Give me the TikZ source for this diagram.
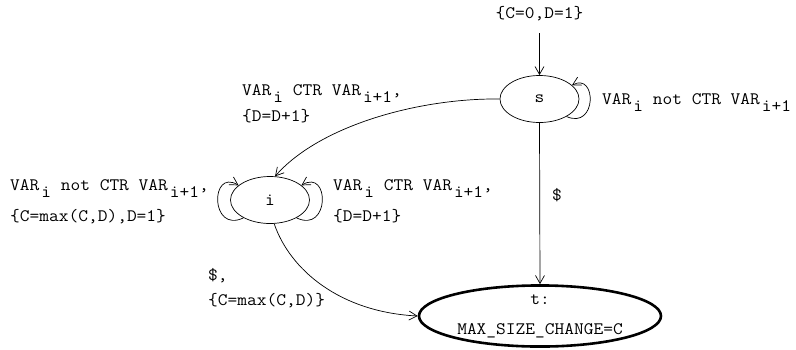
\documentclass[tikz,border=0pt]{standalone}
\usepackage{fontspec}
\setmonofont{Latin Modern Mono}[FakeStretch=1.08]
\usetikzlibrary{shapes.geometric,arrows.meta}
\newcommand\vr[1]{VAR\hspace{2pt}\raisebox{-7pt}{#1}}
\tikzset{
  state/.style={ellipse,draw,line width=0.7pt,minimum width=79pt,minimum height=47pt,inner sep=0pt},
  final/.style={ellipse,draw,line width=2.6pt,minimum width=242pt,minimum height=57pt,inner sep=0pt,align=center},
  lbl/.style={anchor=base west,inner sep=0pt},
  clbl/.style={inner sep=0pt},
  edge/.style={draw,line width=0.7pt,-{Straight Barb[length=8pt,width=9pt]}},
  every node/.style={font=\ttfamily\fontsize{17.5}{30}\selectfont}
}
\begin{document}
\begin{tikzpicture}[x=1pt,y=-1pt]
\useasboundingbox (0,0) rectangle (796,349);
\node[state] (s) at (539.5,99) {s};
\node[state] (i) at (270,200) {i};
\node[final] (t) at (540,316) {t:\\MAX\_SIZE\_CHANGE=C};
\coordinate (init) at (539.5,33);
\node[clbl] (initl) at (539.5,14) {\{C=0,D=1\}};
\draw[edge] (init) -- (s);
% s loop
\draw[edge] (s.-33) .. controls (597,130) and (597,72) .. (s.23);
\node[lbl] (sl) at (602,104) {\vr{i} not CTR \vr{i+1}};
% s to i
\draw[edge] (s.west) .. controls (420,98) and (320,125) .. (i.78);
\node[lbl] (si1) at (242,95) {\vr{i} CTR \vr{i+1},};
\node[lbl] (si2) at (242,121) {\{D=D+1\}};
% i loops
\draw[edge] (i.214) .. controls (210,234) and (210,168) .. (i.155);
\draw[edge] (i.-34) .. controls (330,234) and (330,168) .. (i.25);
\node[lbl] (il1) at (10,190) {\vr{i} not CTR \vr{i+1},};
\node[lbl] (il2) at (10,221) {\{C=max(C,D),D=1\}};
\node[lbl] (ir1) at (333,190) {\vr{i} CTR \vr{i+1},};
\node[lbl] (ir2) at (333,221) {\{D=D+1\}};
% s to t
\draw[edge] (s.south) -- (t.north);
\node[clbl] (dl) at (557,195) {\$};
% i to t
\draw[edge] (i.-80) .. controls (290,270) and (340,312) .. (t.west);
\node[lbl] (it1) at (208,280) {\$,};
\node[lbl] (it2) at (208,305) {\{C=max(C,D)\}};
\end{tikzpicture}
\end{document}
